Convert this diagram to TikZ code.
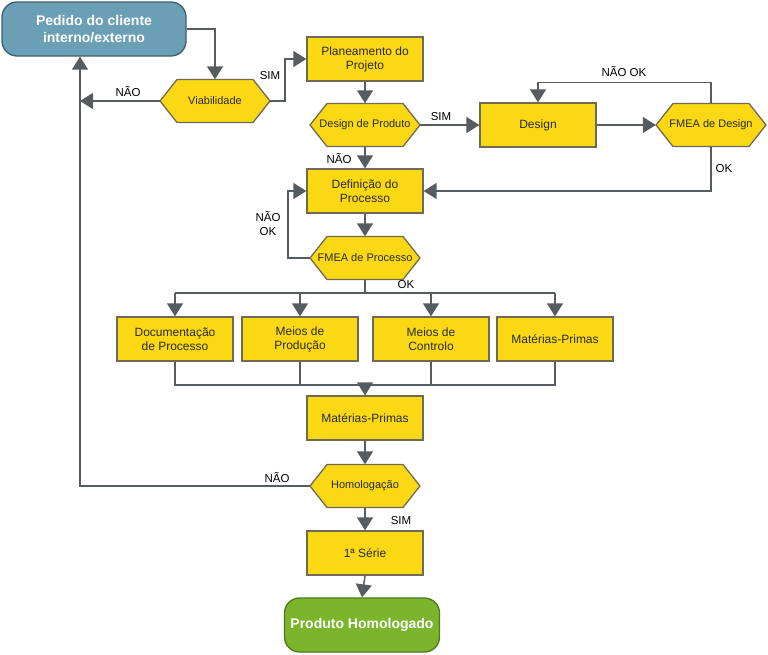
\documentclass[tikz,border=0pt]{standalone}
\usepackage{fontspec}
\setmainfont{Liberation Sans}
\usepackage{xcolor}
\usetikzlibrary{arrows.meta,positioning,calc}
\definecolor{amarelo}{HTML}{FAD814}
\definecolor{borda}{HTML}{6E6A55}
\definecolor{linha}{HTML}{575C60}
\definecolor{azul}{HTML}{6A9FB5}
\definecolor{azulb}{HTML}{3F5F6D}
\definecolor{verde}{HTML}{7AB52C}
\definecolor{verdeb}{HTML}{4E7A1C}
\definecolor{texto}{HTML}{2B2B2B}

% hexagono de decisao: nome, x, y, texto
\newcommand{\decisao}[4]{%
	\filldraw[hexa] (#2-55,#3) -- (#2-38,#3-21.5) -- (#2+38,#3-21.5) -- (#2+55,#3) -- (#2+38,#3+21.5) -- (#2-38,#3+21.5) -- cycle;
	\node[hextxt] (#1) at (#2,#3) {#4};}

\begin{document}
\begin{tikzpicture}[x=1pt,y=-1pt,
		caixa/.style={draw=borda,fill=amarelo,line width=1.3pt,minimum width=116pt,minimum height=44pt,inner sep=2pt,align=center,text=texto,font=\fontsize{12}{14}\selectfont},
		hexa/.style={draw=borda,fill=amarelo,line width=1.3pt},
		hextxt/.style={minimum width=110pt,minimum height=43pt,inner sep=0pt,text=texto,font=\fontsize{11}{13}\selectfont},
		termo/.style={rounded corners=15pt,line width=1.3pt,align=center,text=white,font=\bfseries\fontsize{14}{17}\selectfont},
		seta/.style={draw=linha,line width=1.5pt,-{Triangle[width=16pt,length=13pt]}},
		fio/.style={draw=linha,line width=1.5pt},
		rotulo/.style={text=black,font=\fontsize{11.5}{13}\selectfont,align=center}]
	\useasboundingbox (0,0) rectangle (768,654);
	% terminais
	\node[termo,draw=azulb,fill=azul,minimum width=184pt,minimum height=54pt] (pedido) at (94,29) {Pedido do cliente\\interno/externo};
	\node[termo,draw=verdeb,fill=verde,minimum width=155pt,minimum height=54pt] (produto) at (362,625) {Produto Homologado};
	% caixas
	\node[caixa] (plan) at (365,59) {Planeamento do\\Projeto};
	\node[caixa] (design) at (538,125) {Design};
	\node[caixa] (defproc) at (365,191) {Definição do\\Processo};
	\node[caixa] (doc) at (175,339) {Documentação\\de Processo};
	\node[caixa] (mprod) at (300,339) {Meios de\\Produção};
	\node[caixa] (mcont) at (431,339) {Meios de\\Controlo};
	\node[caixa] (mp1) at (555,339) {Matérias-Primas};
	\node[caixa] (mp2) at (365,418) {Matérias-Primas};
	\node[caixa] (serie) at (365,553) {1ª Série};
	% decisoes
	\decisao{viab}{215}{101}{Viabilidade}
	\decisao{desprod}{365}{125}{Design de Produto}
	\decisao{fmead}{711}{125}{FMEA de Design}
	\decisao{fmeap}{365}{258}{FMEA de Processo}
	\decisao{homol}{365}{486}{Homologação}
	\coordinate (volta) at (80,486);
	\coordinate (bus1) at (365,293);
	\coordinate (bus2) at (365,385);
	% ligacoes
	\draw[seta] (pedido.east) -| (viab.north);
	\draw[seta] (viab.east) -- ++(15,0) |- (plan.west);
	\draw[seta] (viab.west) -- (volta |- viab.west);
	\draw[seta] (homol.west) -- (volta) -- (volta |- pedido.south);
	\draw[seta] (plan.south) -- (desprod.north);
	\draw[seta] (desprod.east) -- (design.west);
	\draw[seta] (design.east) -- (fmead.west);
	\draw[seta] (fmead.north) -- ++(0,-21) -| (design.north);
	\draw[seta] (fmead.south) |- (defproc.east);
	\draw[seta] (desprod.south) -- (defproc.north);
	\draw[seta] (defproc.south) -- (fmeap.north);
	\draw[seta] (fmeap.west) -- ++(-22,0) |- (defproc.west);
	\draw[fio] (fmeap.south) -- (bus1);
	\draw[fio] (doc.north |- bus1) -- (mp1.north |- bus1);
	\foreach \n in {doc,mprod,mcont,mp1}
		\draw[seta] (\n.north |- bus1) -- (\n.north);
	\draw[fio] (doc.south) |- (mp1.south |- bus2) -- (mp1.south);
	\draw[fio] (mprod.south) -- (mprod.south |- bus2);
	\draw[fio] (mcont.south) -- (mcont.south |- bus2);
	\draw[seta] (bus2) -- (mp2.north);
	\draw[seta] (mp2.south) -- (homol.north);
	\draw[seta] (homol.south) -- (serie.north);
	\draw[seta] (serie.south) -- (produto.north);
	% rotulos
	\node[rotulo] at (128,92) {NÃO};
	\node[rotulo] at (270,76) {SIM};
	\node[rotulo] at (441,117) {SIM};
	\node[rotulo] at (624,72) {NÃO OK};
	\node[rotulo] at (724,169) {OK};
	\node[rotulo] at (339,159) {NÃO};
	\node[rotulo,font=\fontsize{11.5}{14}\selectfont] at (268,224) {NÃO\\OK};
	\node[rotulo] at (406,285) {OK};
	\node[rotulo] at (277,477) {NÃO};
	\node[rotulo] at (401,521) {SIM};
\end{tikzpicture}
\end{document}
